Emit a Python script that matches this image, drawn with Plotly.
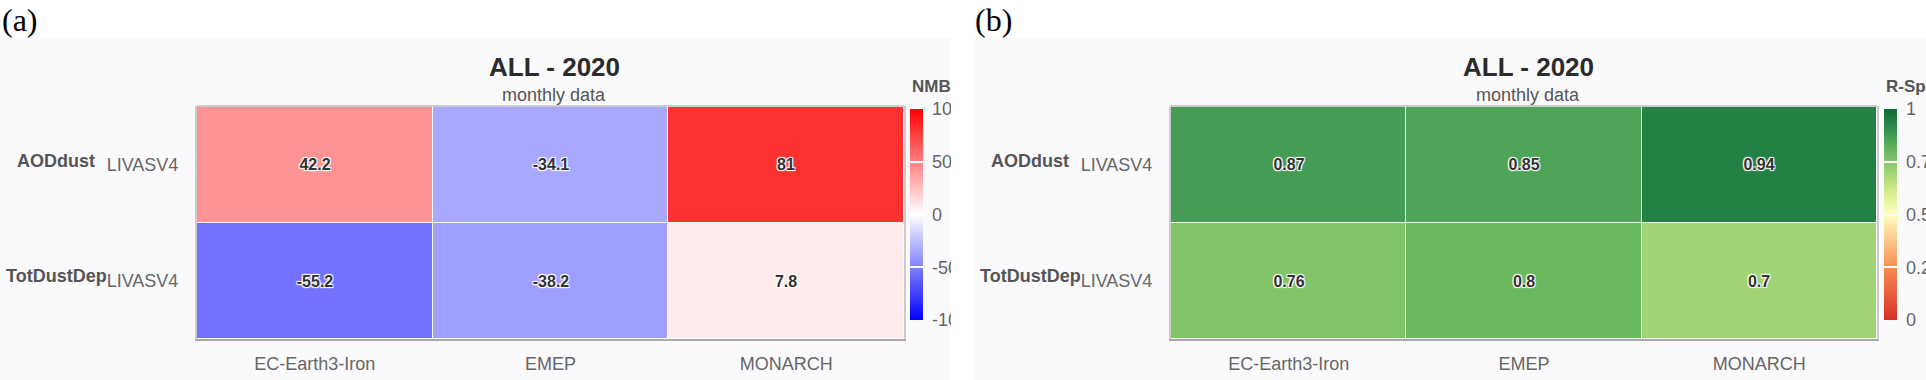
import plotly.graph_objects as go

# data
models = ["EC-Earth3-Iron", "EMEP", "MONARCH"]
variables = ["AODdust", "TotDustDep"]
obs = ["LIVASV4", "LIVASV4"]
nmb = [[42.2, -34.1, 81], [-55.2, -38.2, 7.8]]
rsp = [[0.87, 0.85, 0.94], [0.76, 0.8, 0.7]]

nmb_ticks = [-100, -50, 0, 50, 100]
rsp_ticks = [0, 0.25, 0.5, 0.75, 1]

W, H = 1926, 380
FONT = "Liberation Sans"
NB = "\u00a0"


def px(x):
    return x / W


def py(y):
    return 1 - y / H


def fmt(v):
    return ("%g" % v)


nmb_scale = [[0, "#0000ff"], [0.5, "#ffffff"], [1, "#ff0000"]]
rsp_scale = [[0, "#d73027"], [0.25, "#f88d52"], [0.5, "#ffffbf"], [0.6, "#d9ef8b"],
             [0.7, "#a0d476"], [0.8, "#6ab860"], [0.9, "#359050"], [1, "#0b6a35"]]

halo = "1px 1px 1px #fff, -1px -1px 1px #fff, 1px -1px 1px #fff, -1px 1px 1px #fff"

fig = go.Figure()

panels = [
    dict(z=nmb, scale=nmb_scale, zmin=-100, zmax=100, ticks=nmb_ticks, cbtitle="NMB", off=0, label="(a)"),
    dict(z=rsp, scale=rsp_scale, zmin=0, zmax=1, ticks=rsp_ticks, cbtitle="R-Spearman", off=974, label="(b)"),
]

shapes = []
annots = []
for i, p in enumerate(panels):
    o = p["off"]
    xa = "x" if i == 0 else "x2"
    ya = "y" if i == 0 else "y2"
    fig.add_trace(go.Heatmap(
        z=p["z"], x=models, y=[0, 1],
        xaxis=xa, yaxis=ya,
        colorscale=p["scale"], zmin=p["zmin"], zmax=p["zmax"],
        xgap=1, ygap=1,
        text=[[fmt(v) for v in row] for row in p["z"]],
        texttemplate="%{text}",
        textfont=dict(family=FONT, size=16, color="#333", weight="bold", shadow=halo),
        hoverinfo="skip",
        colorbar=dict(
            x=px(910 + o), xanchor="left", y=py(214.5), yanchor="middle",
            len=211, lenmode="pixels", thickness=13, thicknessmode="pixels",
            xpad=0, ypad=0, outlinewidth=0,
            ticks="inside", ticklen=13, tickcolor="white", tickwidth=1.5,
            tickvals=p["ticks"], ticktext=[NB + fmt(t) for t in p["ticks"]],
            tickfont=dict(family=FONT, size=18, color="#666"),
        ),
    ))

    # panel background
    x0 = 0 if i == 0 else 973
    x1 = 951 if i == 0 else W
    shapes.append(dict(type="rect", xref="paper", yref="paper", x0=px(x0), x1=px(x1),
                       y0=0, y1=py(38), fillcolor="#fafafd", line_width=0, layer="below"))
    # top border of heatmap
    shapes.append(dict(type="line", xref=xa + " domain", yref=ya + " domain",
                       x0=0, x1=1, y0=1, y1=1, line=dict(color="#cccccc", width=2)))

    annots.append(dict(text=p["label"], x=px(x0), y=1, xref="paper", yref="paper",
                       xanchor="left", yanchor="top", showarrow=False,
                       font=dict(family="Liberation Serif", size=32, color="#000")))
    annots.append(dict(text="<b>ALL - 2020</b>", x=px(554 + o), y=py(67), xref="paper", yref="paper",
                       xanchor="center", yanchor="middle", showarrow=False,
                       font=dict(family=FONT, size=26, color="#2b2b2b")))
    annots.append(dict(text="monthly data", x=px(554 + o), y=py(95), xref="paper", yref="paper",
                       xanchor="center", yanchor="middle", showarrow=False,
                       font=dict(family=FONT, size=18, color="#555")))
    annots.append(dict(text="<b>" + p["cbtitle"] + "</b>", x=px(910 + o), y=py(87), xref="paper", yref="paper",
                       xanchor="left", yanchor="middle", showarrow=False,
                       font=dict(family=FONT, size=17, color="#555")))
    for v, yy in zip(variables, [161, 276]):
        annots.append(dict(text="<b>" + v + "</b>", x=px(56 + o), y=py(yy), xref="paper", yref="paper",
                           xanchor="center", yanchor="middle", showarrow=False,
                           font=dict(family=FONT, size=18, color="#555")))

# white gap between the two panels (clips colorbar labels of panel a)
annots.append(dict(text=" ", x=px(951), y=0, xref="paper", yref="paper", xanchor="left", yanchor="bottom",
                   width=22, height=H - 38, bgcolor="#ffffff", showarrow=False, borderpad=0, borderwidth=0))

axis_x = dict(showgrid=False, zeroline=False, showline=True, linecolor="#aaaaaa", linewidth=2,
              ticks="outside", ticklen=7, tickcolor="rgba(0,0,0,0)",
              tickfont=dict(family=FONT, size=18, color="#666"), fixedrange=True)
axis_y = dict(showgrid=False, zeroline=False, showline=True, mirror=True, linecolor="#cccccc", linewidth=2,
              ticks="outside", ticklen=13, tickcolor="rgba(0,0,0,0)", autorange="reversed",
              tickvals=[0, 1], ticktext=obs,
              tickfont=dict(family=FONT, size=18, color="#666"), fixedrange=True)

fig.update_layout(
    width=W, height=H,
    margin=dict(l=0, r=0, t=0, b=0, autoexpand=False),
    paper_bgcolor="#ffffff", plot_bgcolor="#d4d4da",
    xaxis=dict(axis_x, domain=[px(197), px(904)], anchor="y"),
    yaxis=dict(axis_y, domain=[py(339), py(106)], anchor="x"),
    xaxis2=dict(axis_x, domain=[px(1171), px(1877)], anchor="y2"),
    yaxis2=dict(axis_y, domain=[py(339), py(106)], anchor="x2"),
    shapes=shapes, annotations=annots,
    showlegend=False,
)

# page body has a default 8px margin; drop it so the figure sits at the window corner
fig.write_html("out.html", config={"displayModeBar": False},
               post_script="document.body.style.margin='0';document.body.style.overflow='hidden';")
